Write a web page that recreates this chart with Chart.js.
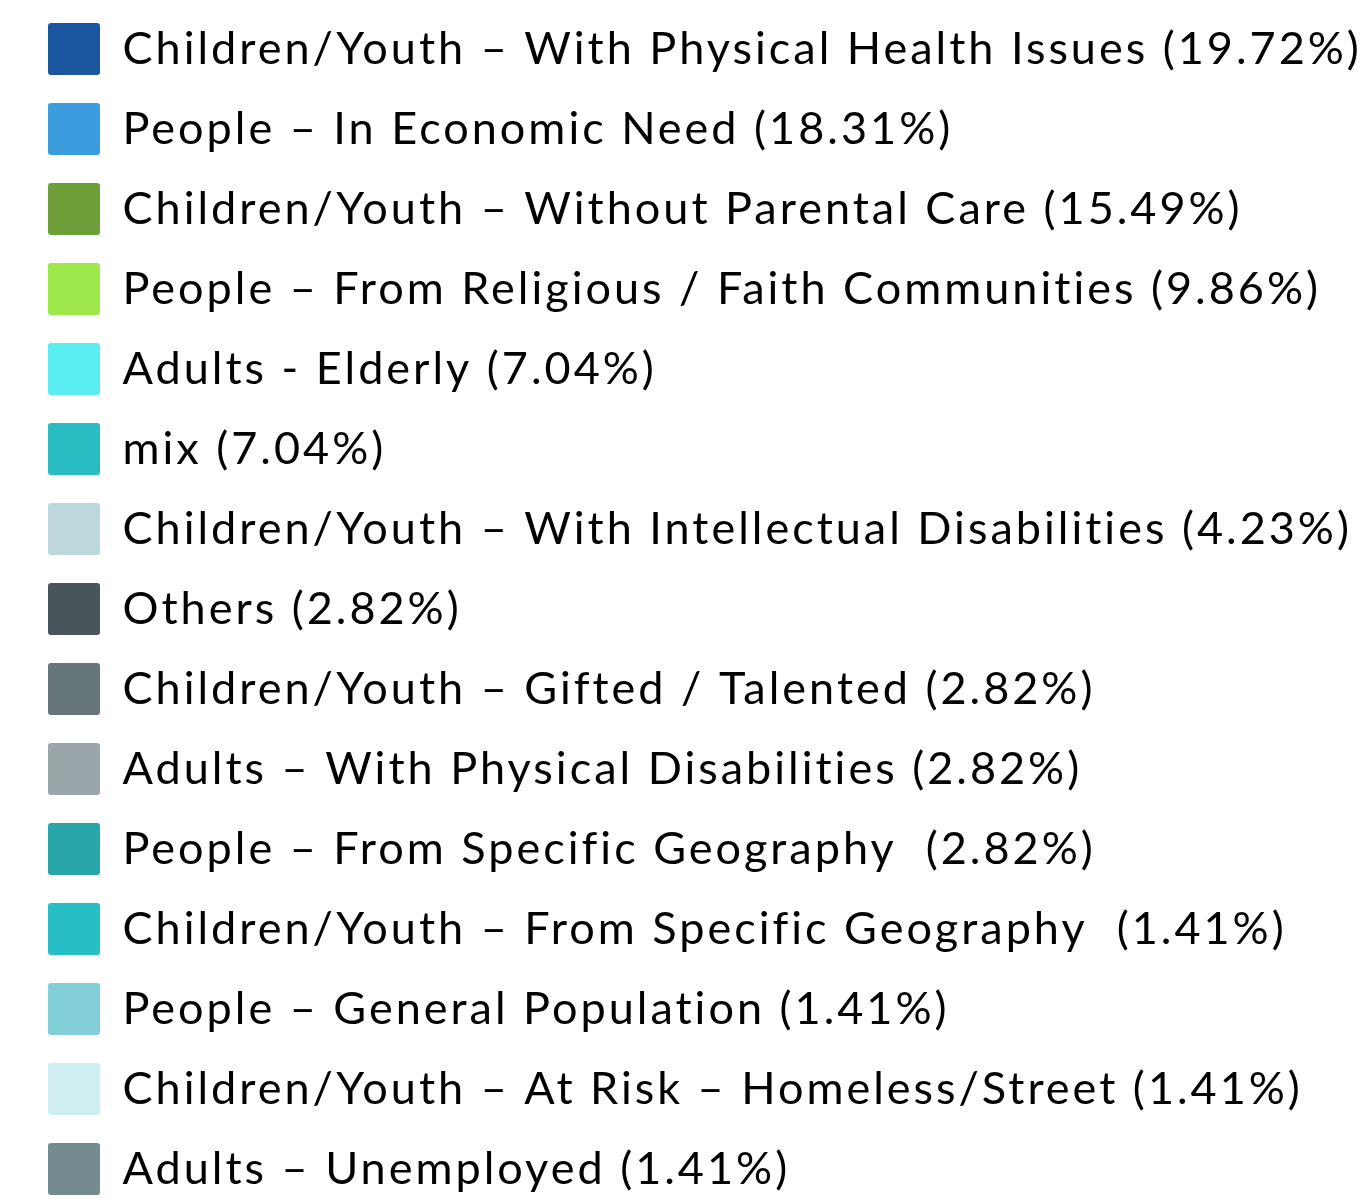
<!DOCTYPE html>
<html>
<head>
<meta charset="utf-8">
<script src="https://cdn.jsdelivr.net/npm/chart.js@4"></script>
<style>
  body { margin: 0; background: #fff; overflow: hidden; }
  #chart { display: block; margin-top: -5px; }
</style>
</head>
<body>
<canvas id="chart" width="2900" height="1240"></canvas>
<script>
const categories = [
  "Children/Youth – With Physical Health Issues",
  "People – In Economic Need",
  "Children/Youth – Without Parental Care",
  "People – From Religious / Faith Communities",
  "Adults - Elderly",
  "mix",
  "Children/Youth – With Intellectual Disabilities",
  "Others",
  "Children/Youth – Gifted / Talented",
  "Adults – With Physical Disabilities",
  "People – From Specific Geography ",
  "Children/Youth – From Specific Geography ",
  "People – General Population",
  "Children/Youth – At Risk – Homeless/Street",
  "Adults – Unemployed"
];
const counts = [14, 13, 11, 7, 5, 5, 3, 2, 2, 2, 2, 1, 1, 1, 1];
const percents = [19.72, 18.31, 15.49, 9.86, 7.04, 7.04, 4.23, 2.82, 2.82, 2.82, 2.82, 1.41, 1.41, 1.41, 1.41];
const colors = [
  "#1a569f", "#3b9ddd", "#6e9f38", "#9fe84b", "#5aedf1",
  "#29bcc3", "#bdd8dc", "#48555a", "#67767b", "#9aa6aa",
  "#28a6a8", "#27bfc5", "#83cfd7", "#ceeef2", "#748c90"
];

const labels = categories.map((c, i) => `${c} (${percents[i].toFixed(2)}%)`);

// the legend text in the original is spaced out a bit
const spacing = {
  id: "spacing",
  beforeUpdate(chart) { chart.ctx.letterSpacing = "3px"; }
};

new Chart(document.getElementById("chart"), {
  type: "pie",
  data: {
    labels,
    datasets: [{
      data: counts,
      backgroundColor: colors,
      borderWidth: 0
    }]
  },
  options: {
    responsive: false,
    animation: false,
    layout: { padding: { left: 20 } },
    plugins: {
      tooltip: { enabled: false },
      legend: {
        position: "left",
        align: "start",
        labels: {
          boxWidth: 52,
          boxHeight: 52,
          padding: 28,
          color: "#000",
          font: { family: "Lato", size: 45 },
          generateLabels(chart) {
            const items = Chart.overrides.doughnut.plugins.legend.labels.generateLabels(chart);
            items.forEach(it => { it.borderRadius = 3; });
            return items;
          }
        }
      }
    }
  },
  plugins: [spacing]
});
</script>
</body>
</html>
